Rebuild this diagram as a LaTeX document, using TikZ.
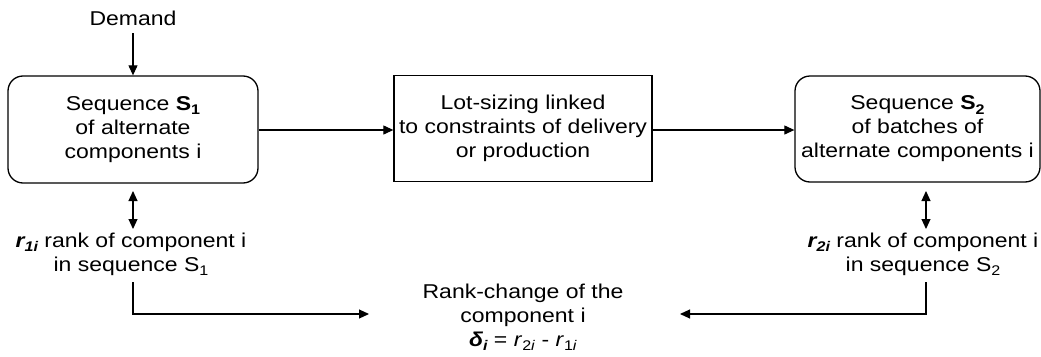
\documentclass[tikz,border=0pt]{standalone}
\usepackage{fontspec}
\setmainfont[FakeStretch=1.15]{Liberation Sans}
\usetikzlibrary{arrows.meta}
\newcommand{\lowsub}[1]{\raisebox{-0.4ex}{\fontsize{14}{14}\selectfont #1}}
\begin{document}
\begin{tikzpicture}[x=1pt,y=-1pt,
  font=\fontsize{20}{24}\selectfont,
  tip/.tip={Triangle[length=10pt,width=9pt]},
  conn/.style={line width=1.1pt,-tip},
  biconn/.style={line width=1.1pt,tip-tip},
  seqbox/.style={draw,line width=1.3pt,rounded corners=15pt,align=center,inner sep=0pt},
  lotbox/.style={draw,line width=1.3pt,align=center,inner sep=0pt},
  lbl/.style={align=center,inner sep=0pt}]
\useasboundingbox (0,0) rectangle (1041,356);

% process boxes
\node[seqbox,minimum width=250pt,minimum height=107pt] (s1) at (133,129.5)
  {Sequence \textbf{S\lowsub{1}}\\of alternate\\components i};
\node[lotbox,minimum width=258pt,minimum height=106pt] (lot) at (523,128.5)
  {Lot-sizing linked\\to constraints of delivery\\or production};
\node[seqbox,minimum width=245pt,minimum height=106pt] (s2) at (917.5,129)
  {Sequence \textbf{S\lowsub{2}}\\of batches of\\alternate components i};

% labels
\node[lbl] (demand) at (133,18) {Demand};
\node[lbl] (r1) at (131,254)
  {{\bfseries\itshape r\lowsub{1i}} rank of component i\\in sequence S\lowsub{1}};
\node[lbl] (r2) at (923,254)
  {{\bfseries\itshape r\lowsub{2i}} rank of component i\\in sequence S\lowsub{2}};
\node[lbl] (delta) at (523,317)
  {Rank-change of the\\component i\\{\bfseries\itshape δ\lowsub{i}} = \textit{r}\lowsub{2\textit{i}} - \textit{r}\lowsub{1\textit{i}}};

% free ends of the two lower connectors
\coordinate (in1) at (369,314);
\coordinate (in2) at (680,314);

% connectors
\draw[conn] (133,33) -- (s1.north);
\draw[conn] (s1.east |- 0,130) -- (lot.west |- 0,130);
\draw[conn] (lot.east |- 0,130) -- (s2.west |- 0,130);
\draw[biconn] (133,191) -- (133,229);
\draw[biconn] (926,191) -- (926,229);
\draw[conn] (133,282) |- (in1);
\draw[conn] (926,282) |- (in2);
\end{tikzpicture}
\end{document}
